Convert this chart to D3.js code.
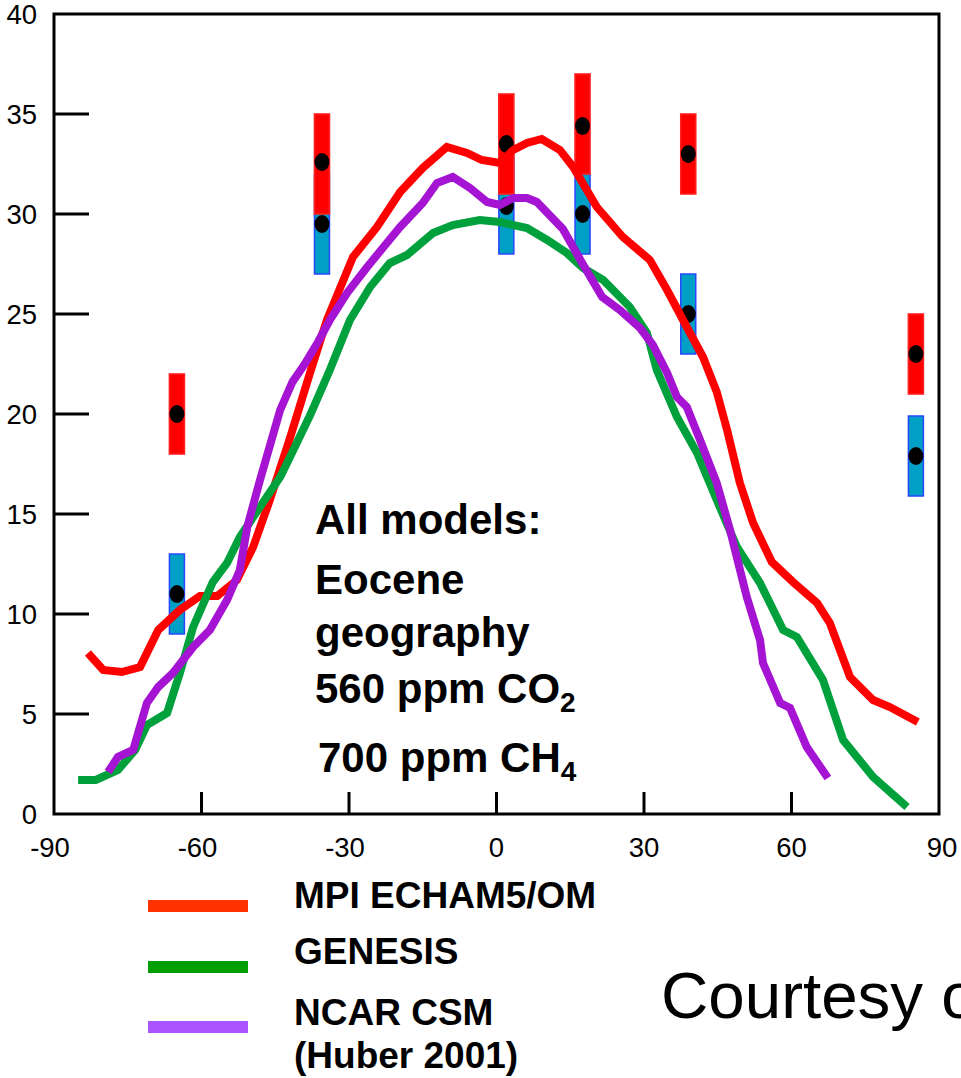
<!DOCTYPE html>
<html><head><meta charset="utf-8">
<script src="https://cdn.jsdelivr.net/npm/d3@7"></script>
<style>body{margin:0;background:#fff;overflow:hidden}svg{display:block}</style>
</head><body>
<script>
// ---- data ----
const xTicks = [-90, -60, -30, 0, 30, 60, 90];
const yTicks = [0, 5, 10, 15, 20, 25, 30, 35, 40];

const mpiLine = [[-83.1,8.05],[-80,7.2],[-76.2,7.1],[-72.5,7.35],[-68.8,9.2],[-64.4,10.2],[-60.3,10.9],[-56.8,10.9],[-52.8,11.7],[-49.5,13.35],[-46.1,15.7],[-42,18.8],[-38,22],[-34.5,24.7],[-29.2,27.85],[-24.3,29.35],[-19.6,31.1],[-15,32.3],[-10.1,33.35],[-6,33.05],[-3,32.7],[0.7,32.55],[3.4,33.2],[6.2,33.55],[9.2,33.75],[12.9,33.2],[15.6,32.35],[20.4,30.35],[25.7,28.85],[31.2,27.7],[34.7,26.2],[38.7,24.35],[42,22.85],[44.8,21.1],[46.9,19.2],[49.5,16.55],[52.2,14.55],[56,12.6],[60.3,11.6],[65.2,10.55],[67.8,9.55],[71.9,6.85],[76.6,5.7],[80,5.35],[85.7,4.6]];
const genesisLine = [[-85.1,1.7],[-81.5,1.7],[-77,2.2],[-73.5,3.2],[-71.1,4.45],[-67,5.05],[-64.4,7.05],[-61.7,9.35],[-57.7,11.6],[-54.8,12.55],[-52.2,13.85],[-44,16.85],[-42,17.85],[-37.9,19.95],[-33.9,22.2],[-29.8,24.7],[-25.7,26.35],[-21.7,27.55],[-18.2,27.95],[-12.9,29.05],[-8.9,29.45],[-3.4,29.7],[0.7,29.6],[6.2,29.3],[10.3,28.7],[14.3,28.05],[17.6,27.3],[21.7,26.7],[27.1,25.35],[30.6,24.05],[32.6,22.2],[36.7,19.85],[40.8,18.05],[44.8,15.7],[48.9,13.35],[53.6,11.55],[58.3,9.2],[61.1,8.85],[66.4,6.7],[70.5,3.7],[76.6,1.85],[83.5,0.35]];
const ncarLine = [[-79,2.1],[-77,2.85],[-73.9,3.2],[-71.1,5.55],[-68.8,6.35],[-65.8,7.05],[-61.7,8.35],[-58.3,9.2],[-54.8,10.7],[-52.2,12.2],[-50.7,14.35],[-48.1,16.7],[-44,20.2],[-41.5,21.6],[-39,22.5],[-36.3,23.6],[-33.9,24.7],[-30.4,26.05],[-26.3,27.35],[-22.3,28.55],[-19.6,29.35],[-15,30.55],[-12.1,31.55],[-8.9,31.85],[-5.4,31.3],[-1.9,30.6],[0.7,30.45],[3.4,30.8],[6.2,30.8],[8.2,30.6],[13.5,29.25],[17.3,27.6],[21.5,25.85],[25.1,25.2],[29.2,24.3],[31.8,23.45],[34.7,22.05],[36.7,20.85],[38.7,20.35],[41.4,18.7],[44.8,16.55],[47.5,14.2],[50.9,10.85],[53.6,8.7],[54.2,7.55],[57.7,5.55],[59.7,5.3],[63.1,3.35],[67.4,1.8]];

const proxyLat  = [-65, -35.5, 2, 17.5, 39, 85.3];
const warmVal   = [20, 32.6, 33.5, 34.4, 33, 23];
const warmLow   = [18, 30, 31, 32, 31, 21];
const warmHigh  = [22, 35, 36, 37, 35, 25];
const coolVal   = [11, 29.5, 30.4, 30, 25, 17.9];
const coolLow   = [9, 27, 28, 28, 23, 15.9];
const coolHigh  = [13, 32, 32.9, 32, 27, 19.9];

const legendNames = ["MPI ECHAM5/OM", "GENESIS", "NCAR CSM", "(Huber 2001)"];
const legendColors = ["#ff3300", "#009e00", "#aa55ff"];
const lineColors = ["#ff0000", "#00a03c", "#a514d2"];
const annotation = ["All models:", "Eocene", "geography", "560 ppm CO", "700 ppm CH"];
const annotationSub = ["", "", "", "2", "4"];

// ---- drawing ----
const W = 961, H = 1078;
const svg = d3.select("body").append("svg").attr("width", W).attr("height", H);
const x = d3.scaleLinear().domain([-90, 90]).range([54, 939]);
const y = d3.scaleLinear().domain([0, 40]).range([814, 14]);
const sans = "'Liberation Sans', Arial, Helvetica, sans-serif";

// proxy bars
const barW = 15;
proxyLat.forEach((lat, i) => {
  svg.append("rect").attr("x", x(lat) - barW/2).attr("y", y(coolHigh[i]))
    .attr("width", barW).attr("height", y(coolLow[i]) - y(coolHigh[i]))
    .attr("fill", "#00a0c6").attr("stroke", "#2a45ff").attr("stroke-width", 1.5);
});
proxyLat.forEach((lat, i) => {
  svg.append("rect").attr("x", x(lat) - barW/2).attr("y", y(warmHigh[i]))
    .attr("width", barW).attr("height", y(warmLow[i]) - y(warmHigh[i]))
    .attr("fill", "#ff0000").attr("stroke", "#ff2020").attr("stroke-width", 1.6);
});
proxyLat.forEach((lat, i) => {
  [warmVal[i], coolVal[i]].forEach(v => {
    svg.append("ellipse").attr("cx", x(lat)).attr("cy", y(v)).attr("rx", 7.5).attr("ry", 9).attr("fill", "#000");
  });
});

// model lines
const line = d3.line().x(d => x(d[0])).y(d => y(d[1]));
[mpiLine, genesisLine, ncarLine].forEach((s, k) => {
  svg.append("path").attr("d", line(s)).attr("fill", "none")
    .attr("stroke", lineColors[k])
    .attr("stroke-width", 8).attr("stroke-linejoin", "miter").attr("stroke-miterlimit", 2);
});

// frame
svg.append("rect").attr("x", x(-90)).attr("y", y(40)).attr("width", x(90) - x(-90)).attr("height", y(0) - y(40))
  .attr("fill", "none").attr("stroke", "#000").attr("stroke-width", 3);

// y ticks
yTicks.forEach(t => {
  if (t > 0 && t < 40) {
    svg.append("line").attr("x1", x(-90)).attr("x2", x(-90) + 35).attr("y1", y(t)).attr("y2", y(t))
      .attr("stroke", "#000").attr("stroke-width", 3);
  }
  svg.append("text").attr("x", 37).attr("y", y(t) + 10).attr("text-anchor", "end")
    .attr("font-family", sans).attr("font-size", 27.5).text(t);
});
// x ticks
xTicks.forEach(t => {
  if (t > -90 && t < 90) {
    svg.append("line").attr("x1", x(t)).attr("x2", x(t)).attr("y1", y(0)).attr("y2", y(0) - 22)
      .attr("stroke", "#000").attr("stroke-width", 3);
  }
  svg.append("text").attr("x", x(t) - (t < 0 ? 4 : 0) + (t === 90 ? 3 : 0)).attr("y", 857).attr("text-anchor", "middle")
    .attr("font-family", sans).attr("font-size", 27.5).text(t);
});

// annotation
const annY = [534, 594, 647, 703, 772];
const annX = [315, 315, 315, 315, 318];
const ann = svg.append("g").attr("font-family", sans).attr("font-weight", "bold").attr("font-size", 42).attr("fill", "#000");
annotation.forEach((s, i) => {
  const t = ann.append("text").attr("x", annX[i]).attr("y", annY[i]);
  t.append("tspan").text(s);
  if (annotationSub[i]) t.append("tspan").attr("font-size", 28).attr("dy", 9).text(annotationSub[i]);
});

// legend
const legY = [906, 967, 1027];
legendColors.forEach((c, i) => {
  svg.append("rect").attr("x", 148).attr("y", legY[i] - 6).attr("width", 100).attr("height", 12).attr("fill", c);
});
const legTextY = [908, 964, 1025, 1068];
const lg = svg.append("g").attr("font-family", sans).attr("font-weight", "bold").attr("font-size", 37);
legendNames.forEach((n, i) => {
  lg.append("text").attr("x", 294).attr("y", legTextY[i]).text(n);
});

// credit (cut off at the right edge, as in the reference)
svg.append("text").attr("x", 661).attr("y", 1018).attr("font-family", sans).attr("font-size", 65.5).text("Courtesy of");
</script>
</body></html>
